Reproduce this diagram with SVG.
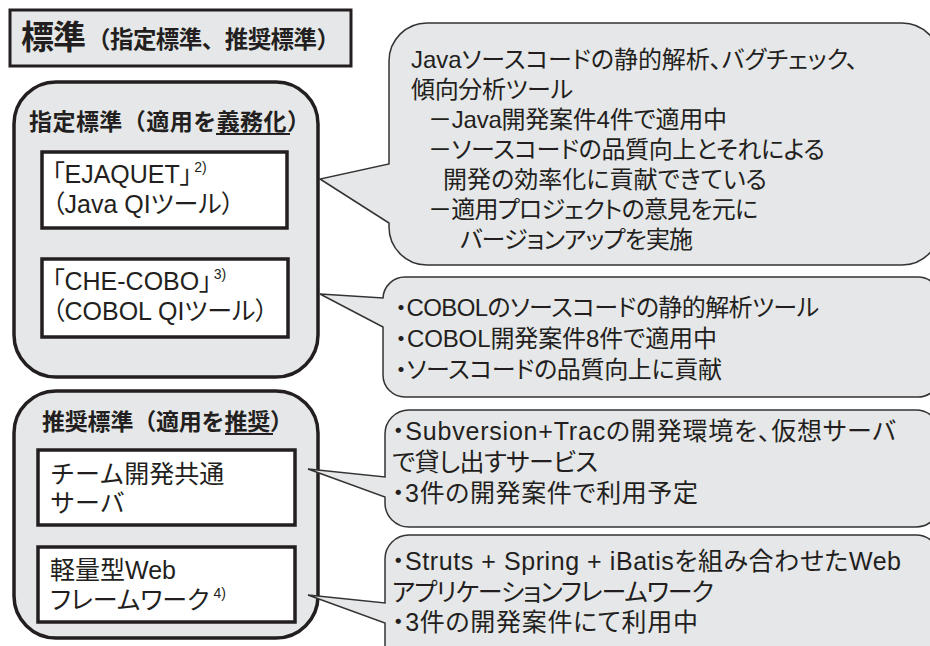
<svg xmlns="http://www.w3.org/2000/svg" width="930" height="646" viewBox="0 0 930 646">
<style>
text{font-family:"Liberation Sans","Noto Sans CJK JP",sans-serif;fill:#231f20}
.hd{font-weight:bold;font-size:23px}
.bx{font-size:25px}
.p{font-feature-settings:"palt"}
.co{font-feature-settings:"palt"}
.j{font-size:24px}
.c{font-size:24px}
.s{font-size:25px}
.sup{font-size:14px}
.big{fill:#e6e7e8;stroke:#231f20;stroke-width:3.5}
.inner{fill:#fff;stroke:#231f20;stroke-width:3.5}
.bub{fill:#e6e7e8;stroke:#333;stroke-width:1.5;stroke-linejoin:miter}
.ul{stroke:#231f20;stroke-width:2}
</style>
<rect width="930" height="646" fill="#fff"/>
<g id="title">
<rect x="10" y="10" width="341" height="56" fill="#e6e7e8" stroke="#231f20" stroke-width="3"/>
<text x="21" y="49" font-weight="bold" font-size="33" textLength="65">標準</text>
<text x="87" y="48" font-weight="bold" font-size="23.5" textLength="253">（指定標準、推奨標準）</text>
</g>
<g id="shitei">
<rect class="big" x="14" y="82" width="304" height="295" rx="42"/>
<text class="hd" x="29" y="130" textLength="281">指定標準（適用を義務化）</text>
<line class="ul" x1="216" y1="134" x2="290" y2="134"/>
</g>
<g id="ejaquet">
<rect class="inner" x="42" y="152" width="245" height="76"/>
<text class="bx p" x="52" y="183">「EJAQUET」<tspan class="sup" dx="2" dy="-11">2)</tspan></text>
<text class="bx p" x="52" y="213">（Java QIツール）</text>
</g>
<g id="checobo">
<rect class="inner" x="42" y="259" width="246" height="78"/>
<text class="bx p" x="52" y="290">「CHE-COBO」<tspan class="sup" dx="2" dy="-11">3)</tspan></text>
<text class="bx p" x="52" y="320">（COBOL QIツール）</text>
</g>
<g id="suisho">
<rect class="big" x="14" y="391" width="304" height="247" rx="42"/>
<text class="hd" x="42" y="430" textLength="251">推奨標準（適用を推奨）</text>
<line class="ul" x1="225" y1="434" x2="273" y2="434"/>
</g>
<g id="team">
<rect class="inner" x="38" y="450" width="257" height="75"/>
<text class="bx" x="50" y="483">チーム開発共通</text>
<text class="bx" x="50" y="512">サーバ</text>
</g>
<g id="web">
<rect class="inner" x="38" y="547" width="257" height="75"/>
<text class="bx" x="50" y="579">軽量型Web</text>
<text class="bx p" x="50" y="609">フレームワーク<tspan class="sup" dx="4" dy="-11">4)</tspan></text>
</g>
<g id="connectors">
<path class="bub" d="M427,23 H902 A38,38 0 0 1 940,61 V227 A38,38 0 0 1 902,265 H427 A38,38 0 0 1 389,227 V223 L320,179 L389,164 V61 A38,38 0 0 1 427,23 Z"/>
<path class="bub" d="M405,277 H918 A22,22 0 0 1 940,299 V375 A22,22 0 0 1 918,397 H405 A22,22 0 0 1 383,375 V327 L320,294 L383,298 A22,22 0 0 1 405,277 Z"/>
<path class="bub" d="M409,410 H916 A24,24 0 0 1 940,434 V503 A24,24 0 0 1 916,527 H409 A24,24 0 0 1 385,503 V497 L308,469 L385,477 V434 A24,24 0 0 1 409,410 Z"/>
<path class="bub" d="M409,535 H916 A24,24 0 0 1 940,559 V660 H385 V623 L308,595 L385,603 V559 A24,24 0 0 1 409,535 Z"/>
</g>
<g id="note-java">
<text class="co j" x="411" y="68" textLength="447">Javaソースコードの静的解析、バグチェック、</text>
<text class="co j" x="411" y="98" textLength="162">傾向分析ツール</text>
<text class="co j" x="428" y="128" textLength="299">－Java開発案件4件で適用中</text>
<text class="co j" x="428" y="158" textLength="397">－ソースコードの品質向上とそれによる</text>
<text class="co j" x="443" y="188" textLength="324">開発の効率化に貢献できている</text>
<text class="co j" x="428" y="218" textLength="330">－適用プロジェクトの意見を元に</text>
<text class="co j" x="460" y="248" textLength="233">バージョンアップを実施</text>
</g>
<g id="note-cobol">
<text class="co c" x="395" y="316" textLength="424">・COBOLのソースコードの静的解析ツール</text>
<text class="co c" x="395" y="347" textLength="322">・COBOL開発案件8件で適用中</text>
<text class="co c" x="395" y="378" textLength="327">・ソースコードの品質向上に貢献</text>
</g>
<g id="note-svn">
<text class="co s" x="392" y="440" textLength="504">・Subversion+Tracの開発環境を、仮想サーバ</text>
<text class="co s" x="392" y="471" textLength="206">で貸し出すサービス</text>
<text class="co s" x="392" y="502" textLength="306">・3件の開発案件で利用予定</text>
</g>
<g id="note-web">
<text class="co s" x="392" y="570" textLength="509">・Struts + Spring + iBatisを組み合わせたWeb</text>
<text class="co s" x="392" y="601" textLength="322">アプリケーションフレームワーク</text>
<text class="co s" x="392" y="631" textLength="306">・3件の開発案件にて利用中</text>
</g>
</svg>
